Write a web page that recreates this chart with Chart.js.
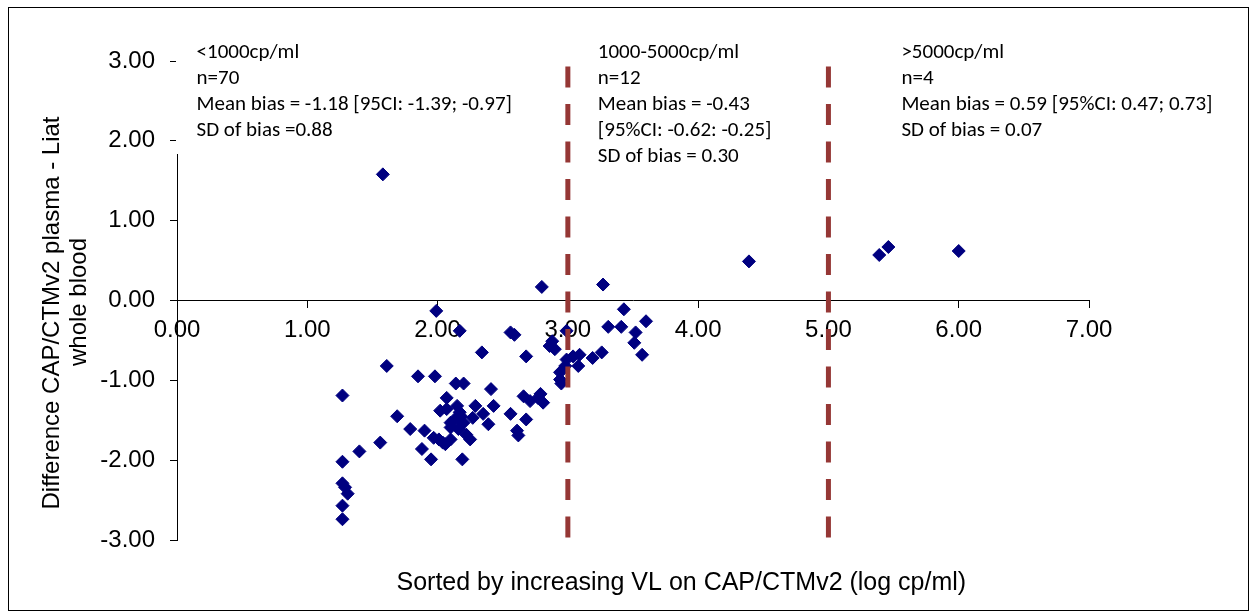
<!DOCTYPE html>
<html>
<head>
<meta charset="utf-8">
<title>CAP/CTMv2 vs Liat bias</title>
<script src="https://cdn.jsdelivr.net/npm/chart.js@4.4.1/dist/chart.umd.min.js"></script>
<style>
  html, body { margin: 0; padding: 0; background: #fff; }
  #wrap { width: 1256px; height: 615px; }
</style>
</head>
<body>
<div id="wrap"><canvas id="biasChart" width="1256" height="615"></canvas></div>
<script>
// VL on CAP/CTMv2 (log cp/ml), sorted ascending
const vlLog = [
  1.27, 1.27, 1.27, 1.27, 1.27, 1.29, 1.31, 1.40, 1.56, 1.58,
  1.61, 1.69, 1.79, 1.85, 1.88, 1.90, 1.95, 1.97, 1.98, 1.99,
  2.01, 2.02, 2.04, 2.06, 2.07, 2.07, 2.10, 2.10, 2.10, 2.13,
  2.14, 2.15, 2.16, 2.17, 2.17, 2.18, 2.19, 2.20, 2.20, 2.22,
  2.25, 2.27, 2.29, 2.34, 2.35, 2.39, 2.41, 2.43, 2.56, 2.56,
  2.59, 2.61, 2.62, 2.66, 2.68, 2.68, 2.71, 2.77, 2.79, 2.80,
  2.81, 2.86, 2.88, 2.90, 2.94, 2.94, 2.95, 2.98, 2.99, 2.99,
  3.04, 3.08, 3.09, 3.19, 3.26, 3.27, 3.31, 3.41, 3.43, 3.51,
  3.52, 3.57, 3.60,
  4.39, 5.39, 5.46, 6.00
];
// difference CAP/CTMv2 plasma - Liat whole blood (log cp/ml)
const bias = [
  -1.19, -2.02, -2.29, -2.57, -2.74, -2.34, -2.42, -1.89, -1.78, 1.58,
  -0.82, -1.45, -1.61, -0.95, -1.86, -1.63, -1.99, -1.72, -0.95, -0.13,
  -1.74, -1.38, -1.78, -1.80, -1.22, -1.36, -1.53, -1.59, -1.74, -1.49,
  -1.04, -1.32, -1.61, -0.38, -1.40, -1.45, -1.99, -1.04, -1.53, -1.68,
  -1.74, -1.47, -1.32, -0.65, -1.42, -1.55, -1.11, -1.32, -0.40, -1.42,
  -0.43, -1.63, -1.69, -1.20, -0.70, -1.49, -1.26, -1.22, -1.17, 0.17,
  -1.28, -0.57, -0.51, -0.61, -0.90, -0.99, -1.04, -0.82, -0.38, -0.74,
  -0.70, -0.82, -0.68, -0.72, -0.65, 0.20, -0.33, -0.33, -0.11, -0.53,
  -0.40, -0.68, -0.26,
  0.49, 0.57, 0.67, 0.62
];
// VL cut-offs drawn as dashed verticals
const cutoffs = [3, 5];
const cutoffTop = 2.93;
const cutoffBottom = -3;

const yTitle = ['Difference CAP/CTMv2 plasma - Liat', 'whole blood'];
const xTitle = 'Sorted by increasing VL on CAP/CTMv2 (log cp/ml)';

const groupNotes = [
  ['<1000cp/ml', 'n=70', 'Mean bias = -1.18 [95CI: -1.39; -0.97]', 'SD of bias =0.88'],
  ['1000-5000cp/ml', 'n=12', 'Mean bias = -0.43', '[95%CI: -0.62: -0.25]', 'SD of bias = 0.30'],
  ['>5000cp/ml', 'n=4', 'Mean bias = 0.59 [95%CI: 0.47; 0.73]', 'SD of bias = 0.07']
];

const AXIS_FONT = "'Liberation Sans', Arial, sans-serif";
const NOTE_FONT = "Carlito, Lato, 'Liberation Sans', sans-serif";

// text boxes, axis titles and the outer frame
const notesPlugin = {
  id: 'groupNotes',
  beforeDraw(chart) {
    const ctx = chart.ctx;
    ctx.save();
    ctx.fillStyle = '#ffffff';
    ctx.fillRect(0, 0, chart.width, chart.height);
    ctx.restore();
  },
  afterDraw(chart) {
    const ctx = chart.ctx;
    const area = chart.chartArea;
    const xs = chart.scales.x;
    ctx.save();

    // first text box is opaque and hides the top of the y axis line
    ctx.fillStyle = '#ffffff';
    ctx.fillRect(area.left - 1, 34, 350, 120);

    const starts = [0.15, 3.23, 5.56];
    ctx.fillStyle = '#000000';
    ctx.font = '21px ' + NOTE_FONT;
    ctx.textAlign = 'left';
    ctx.textBaseline = 'middle';
    groupNotes.forEach((lines, i) => {
      const x = xs.getPixelForValue(starts[i]);
      lines.forEach((t, j) => ctx.fillText(t, x, 53 + j * 26));
    });

    // x axis title sits under the plot, off-centre to the right
    ctx.font = '25px ' + AXIS_FONT;
    ctx.textAlign = 'center';
    ctx.fillText(xTitle, area.left + area.width * 0.553, area.bottom + 43);

    // y axis title, rotated, two lines
    ctx.font = '24px ' + AXIS_FONT;
    ctx.translate(52, 0);
    ctx.rotate(-Math.PI / 2);
    ctx.fillText(yTitle[0], -313, 0);
    ctx.fillText(yTitle[1], -302, 27);
    ctx.setTransform(1, 0, 0, 1, 0, 0);

    ctx.strokeStyle = '#000000';
    ctx.lineWidth = 1;
    ctx.strokeRect(8.5, 7.5, 1240, 603);
    ctx.restore();
  }
};

const points = vlLog.map((v, i) => ({ x: v, y: bias[i] }));
const cutoffSets = cutoffs.map(c => ({
  type: 'line',
  data: [{ x: c, y: cutoffTop }, { x: c, y: cutoffBottom }],
  borderColor: '#953735',
  borderWidth: 5,
  borderDash: [21, 16.5],
  borderCapStyle: 'butt',
  pointRadius: 0,
  fill: false
}));

new Chart(document.getElementById('biasChart'), {
  type: 'scatter',
  data: {
    datasets: [
      ...cutoffSets,
      {
        label: 'Difference',
        data: points,
        pointStyle: 'rectRot',
        pointRadius: 6.5,
        pointBorderWidth: 1,
        backgroundColor: '#000080',
        borderColor: '#000080'
      }
    ]
  },
  options: {
    responsive: false,
    animation: false,
    devicePixelRatio: 1,
    layout: { padding: { top: 61, right: 167, bottom: 75, left: 0 } },
    plugins: {
      legend: { display: false },
      tooltip: { enabled: false }
    },
    scales: {
      x: {
        type: 'linear',
        position: { y: 0 },
        min: 0,
        max: 7,
        grid: { drawOnChartArea: false, drawTicks: true, tickLength: 7, color: '#000000' },
        border: { display: true, color: '#000000', width: 1 },
        ticks: {
          stepSize: 1,
          padding: 8,
          color: '#000000',
          font: { family: AXIS_FONT, size: 24 },
          callback: v => v.toFixed(2)
        }
      },
      y: {
        type: 'linear',
        position: 'left',
        min: -3,
        max: 3,
        afterFit: scale => { scale.width = 177; },
        grid: { drawOnChartArea: false, drawTicks: true, tickLength: 7, color: '#000000' },
        border: { display: true, color: '#000000', width: 1 },
        ticks: {
          stepSize: 1,
          padding: 15,
          color: '#000000',
          font: { family: AXIS_FONT, size: 24 },
          callback: v => v.toFixed(2)
        }
      }
    }
  },
  plugins: [notesPlugin]
});
</script>
</body>
</html>
